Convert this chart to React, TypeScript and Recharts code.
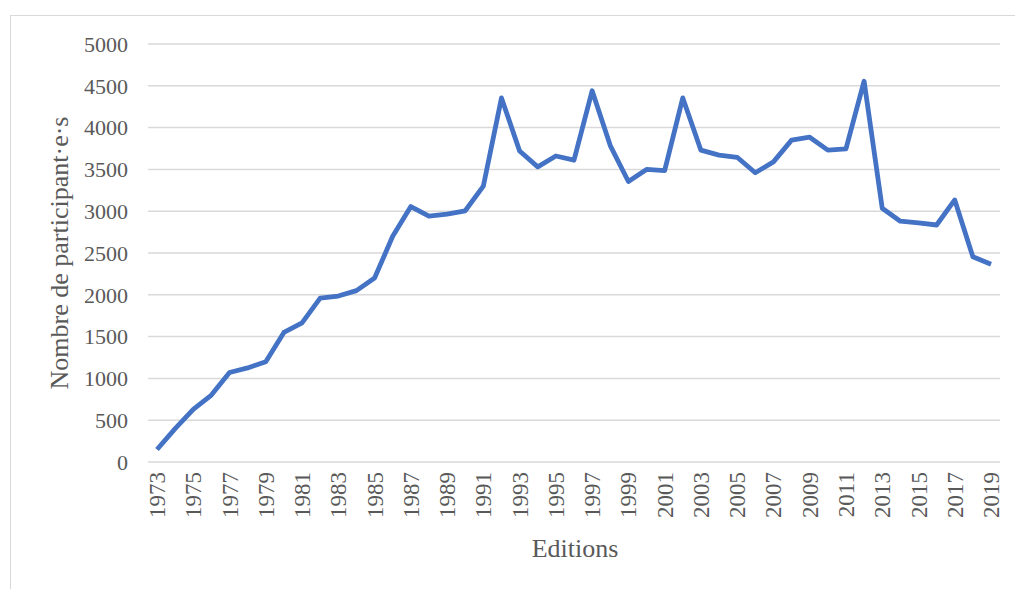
import React from 'react';
import { LineChart, Line, XAxis, YAxis, CartesianGrid } from 'recharts';

const years = [
  1973, 1974, 1975, 1976, 1977, 1978, 1979, 1980, 1981, 1982, 1983, 1984, 1985, 1986, 1987, 1988,
  1989, 1990, 1991, 1992, 1993, 1994, 1995, 1996, 1997, 1998, 1999, 2000, 2001, 2002, 2003, 2004,
  2005, 2006, 2007, 2008, 2009, 2010, 2011, 2012, 2013, 2014, 2015, 2016, 2017, 2018, 2019,
];

const participants = [
  150, 400, 630, 800, 1070, 1125, 1200, 1550, 1665, 1960, 1985, 2050, 2200, 2700, 3055, 2940,
  2965, 3005, 3300, 4355, 3720, 3530, 3660, 3610, 4440, 3785, 3355, 3500, 3485, 4355, 3730, 3670,
  3645, 3460, 3590, 3850, 3885, 3730, 3745, 4555, 3035, 2880, 2860, 2835, 3135, 2455, 2365,
];

const yTicks = [0, 500, 1000, 1500, 2000, 2500, 3000, 3500, 4000, 4500, 5000];

const data = years.map((y, i) => ({ year: String(y), value: participants[i] }));

const FONT = '"Liberation Serif", "Times New Roman", serif';
const TEXT = '#595959';

function YearTick({ x, y, payload }: any) {
  return (
    <g transform={`translate(${x},${y + 2}) rotate(-90)`}>
      <text textAnchor="end" dy="0.35em" fontSize={23} fontFamily={FONT} fill={TEXT}>
        {payload.value}
      </text>
    </g>
  );
}

export default function App() {
  return (
    <div style={{ position: 'absolute', left: 0, top: 0, width: 1015, height: 589, background: '#fff', overflow: 'hidden' }}>
      <div
        style={{
          position: 'absolute',
          left: 10,
          top: 15,
          width: 1015,
          height: 600,
          border: '1px solid #d9d9d9',
          boxSizing: 'border-box',
        }}
      />
      <div style={{ position: 'absolute', left: 0, top: 0 }}>
        <LineChart width={1015} height={589} data={data} margin={{ top: 44, right: 15, bottom: 0, left: 0 }}>
          <CartesianGrid vertical={false} stroke="#d9d9d9" strokeWidth={1.5} />
          <XAxis
            dataKey="year"
            interval={1}
            padding={{ left: 9, right: 9 }}
            axisLine={false}
            tickLine={false}
            height={127}
            tick={<YearTick />}
            label={{
              content: () => (
                <text x={575} y={557} textAnchor="middle" fontSize={26} fontFamily={FONT} fill={TEXT}>
                  Editions
                </text>
              ),
            }}
          />
          <YAxis
            domain={[0, 5000]}
            ticks={yTicks}
            width={148}
            axisLine={false}
            tickLine={false}
            tickSize={0}
            tickMargin={20}
            tick={{ fontSize: 22, fontFamily: FONT, fill: TEXT }}
            label={{
              content: () => (
                <text
                  x={0}
                  y={0}
                  transform="translate(68,253) rotate(-90)"
                  textAnchor="middle"
                  fontSize={26}
                  fontFamily={FONT}
                  fill={TEXT}
                >
                  Nombre de participant·e·s
                </text>
              ),
            }}
          />
          <Line
            type="linear"
            dataKey="value"
            stroke="#4472C4"
            strokeWidth={4.8}
            dot={false}
            strokeLinejoin="round"
            isAnimationActive={false}
          />
        </LineChart>
      </div>
    </div>
  );
}
